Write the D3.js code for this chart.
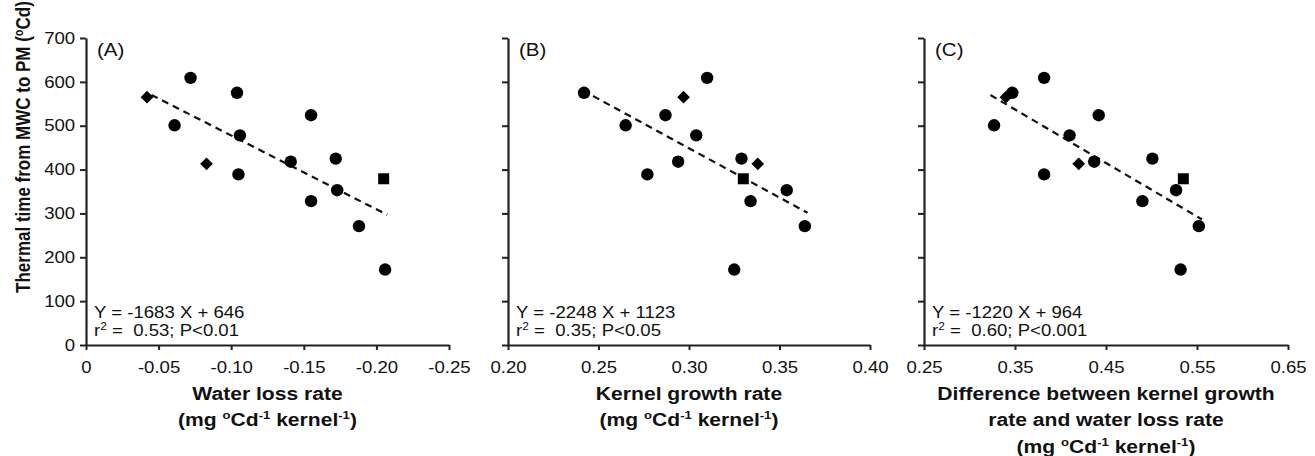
<!DOCTYPE html>
<html><head><meta charset="utf-8">
<script src="https://cdn.jsdelivr.net/npm/d3@7"></script>
<style>
html,body{margin:0;padding:0;background:#fff;}
svg{display:block;font-family:"Liberation Sans",Arial,sans-serif;}
text{white-space:pre;fill:#111;}
</style></head>
<body>
<svg id="chart" width="1315" height="456"></svg>
<script>
// ---- data ----
const thermalTime = [609, 575, 565, 524, 501, 478, 425, 418, 413, 389, 379, 353, 328, 271, 172];
const markerShape = ["circle","circle","diamond","circle","circle","circle","circle","circle","diamond","circle","square","circle","circle","circle","circle"];
const waterLossRate   = [-0.072, -0.104, -0.042, -0.155, -0.061, -0.106, -0.172, -0.141, -0.083, -0.105, -0.205, -0.173, -0.155, -0.188, -0.206];
const kernelGrowthRate = [0.310, 0.242, 0.297, 0.287, 0.265, 0.304, 0.329, 0.294, 0.338, 0.277, 0.330, 0.354, 0.334, 0.364, 0.325];
const rateDifference  = [0.382, 0.347, 0.340, 0.442, 0.327, 0.410, 0.501, 0.437, 0.420, 0.382, 0.535, 0.527, 0.490, 0.552, 0.532];

const yTicks = [0, 100, 200, 300, 400, 500, 600, 700];
const xTicksA = [0, -0.05, -0.10, -0.15, -0.20, -0.25];
const xTickLabelsA = ["0", "-0.05", "-0.10", "-0.15", "-0.20", "-0.25"];
const xTicksB = [0.20, 0.25, 0.30, 0.35, 0.40];
const xTickLabelsB = ["0.20", "0.25", "0.30", "0.35", "0.40"];
const xTicksC = [0.25, 0.35, 0.45, 0.55, 0.65];
const xTickLabelsC = ["0.25", "0.35", "0.45", "0.55", "0.65"];

const panelLabels = ["(A)", "(B)", "(C)"];
const fitSlopes = [-1683, -2248, -1220];
const fitIntercepts = [646, 1123, 964];
const fitRangeA = [-0.045, -0.2075];
const fitRangeB = [0.247, 0.3655];
const fitRangeC = [0.323, 0.5555];
const eqLines = ["Y = -1683 X + 646", "Y = -2248 X + 1123", "Y = -1220 X + 964"];
const statLines = [" =  0.53; P<0.01", " =  0.35; P<0.05", " =  0.60; P<0.001"];
const xTitlesA = ["Water loss rate"];
const xTitlesB = ["Kernel growth rate"];
const xTitlesC = ["Difference between kernel growth", "rate and water loss rate"];

// ---- layout ----
const SX = 1.14; // horizontal stretch of the original figure's text
const svg = d3.select("#chart");
const yTop = 38, yBot = 345;
const y = d3.scaleLinear().domain([0, 700]).range([yBot, yTop]);

const panels = [
  {xs: waterLossRate, dom: [0, -0.25], rng: [86, 449], ticks: xTicksA, tl: xTickLabelsA, fit: fitRangeA, abs: true, titles: xTitlesA, ylab: true},
  {xs: kernelGrowthRate, dom: [0.20, 0.40], rng: [508, 870], ticks: xTicksB, tl: xTickLabelsB, fit: fitRangeB, abs: false, titles: xTitlesB, ylab: false},
  {xs: rateDifference, dom: [0.25, 0.65], rng: [924, 1288], ticks: xTicksC, tl: xTickLabelsC, fit: fitRangeC, abs: false, titles: xTitlesC, ylab: false}
];

function stretchedText(parent, x, yy, size, weight, anchor) {
  return parent.append("text")
    .attr("transform", `translate(${x},${yy}) scale(${SX},1)`)
    .attr("font-size", size).attr("font-weight", weight)
    .attr("text-anchor", anchor);
}
function unitsLine(t, size) {
  const sup = size * 0.62;
  t.append("tspan").text("(mg ");
  t.append("tspan").attr("font-size", sup).attr("dy", -size * 0.38).text("o");
  t.append("tspan").attr("dy", size * 0.38).text("Cd");
  t.append("tspan").attr("font-size", sup).attr("dy", -size * 0.38).text("-1");
  t.append("tspan").attr("dy", size * 0.38).text(" kernel");
  t.append("tspan").attr("font-size", sup).attr("dy", -size * 0.38).text("-1");
  t.append("tspan").attr("dy", size * 0.38).text(")");
}

const symGen = {
  circle: d3.symbol().type(d3.symbolCircle).size(Math.PI * 6.2 * 6.2),
  square: d3.symbol().type(d3.symbolSquare).size(11 * 11),
  diamond: d3.symbol().type(d3.symbolSquare).size(9 * 9)
};

panels.forEach((p, i) => {
  const x = d3.scaleLinear().domain(p.dom).range(p.rng);
  const g = svg.append("g");

  // y axis
  const yAxis = d3.axisLeft(y).tickValues(yTicks).tickSize(6).tickSizeOuter(0).tickPadding(3)
    .tickFormat(p.ylab ? d3.format("d") : () => "");
  const ya = g.append("g").attr("transform", `translate(${p.rng[0]},0)`).call(yAxis);
  // x axis
  const xAxis = d3.axisBottom(x).tickValues(p.ticks).tickSize(5).tickSizeOuter(0).tickPadding(11)
    .tickFormat((d, k) => p.tl[k]);
  const xa = g.append("g").attr("transform", `translate(0,${yBot})`).call(xAxis);

  [ya, xa].forEach(a => {
    a.select(".domain").attr("stroke", "#222").attr("stroke-width", 2.2);
    a.selectAll(".tick line").attr("stroke", "#222").attr("stroke-width", 2);
    a.selectAll(".tick text").attr("font-size", 16.3).attr("fill", "#111")
      .attr("font-family", "Liberation Sans, Arial, sans-serif")
      .attr("transform", `scale(${SX},1)`);
  });
  ya.selectAll(".tick text").attr("x", -9.5);

  // fit line
  const fx = v => p.abs ? Math.abs(v) : v;
  const fitPts = p.fit.map(v => [x(v), y(fitSlopes[i] * fx(v) + fitIntercepts[i])]);
  g.append("path").attr("d", d3.line()(fitPts))
    .attr("fill", "none").attr("stroke", "#111").attr("stroke-width", 2.2)
    .attr("stroke-dasharray", "7,5");

  // points
  g.selectAll("path.pt").data(thermalTime).enter().append("path")
    .attr("class", "pt")
    .attr("d", (d, k) => symGen[markerShape[k]]())
    .attr("transform", (d, k) => `translate(${x(p.xs[k])},${y(d)})` + (markerShape[k] === "diamond" ? " rotate(45)" : ""))
    .attr("fill", "#000");

  // panel label
  stretchedText(g, p.rng[0] + 11, 56, 18, "normal", "start").text(panelLabels[i]);

  // equation
  stretchedText(g, p.rng[0] + 8, 317.5, 16.3, "normal", "start").text(eqLines[i]);
  const st = stretchedText(g, p.rng[0] + 8, 336, 16.3, "normal", "start");
  st.append("tspan").text("r");
  st.append("tspan").attr("font-size", 10.5).attr("dy", -6).text("2");
  st.append("tspan").attr("dy", 6).text(statLines[i]);

  // x title
  const cx = (p.rng[0] + p.rng[1]) / 2;
  let by = 400;
  p.titles.forEach(line => {
    stretchedText(g, cx, by, 18.5, "bold", "middle").text(line);
    by += 26.3;
  });
  unitsLine(stretchedText(g, cx, by, 18.5, "bold", "middle"), 18.5);
});

// y title
const yt = svg.append("text")
  .attr("transform", `translate(30,147) scale(${SX},1) rotate(-90)`)
  .attr("font-size", 17).attr("font-weight", "bold").attr("text-anchor", "middle");
yt.append("tspan").text("Thermal time from MWC to PM (");
yt.append("tspan").attr("font-size", 11).attr("dy", -6).text("o");
yt.append("tspan").attr("dy", 6).text("Cd)");
</script>
</body></html>
